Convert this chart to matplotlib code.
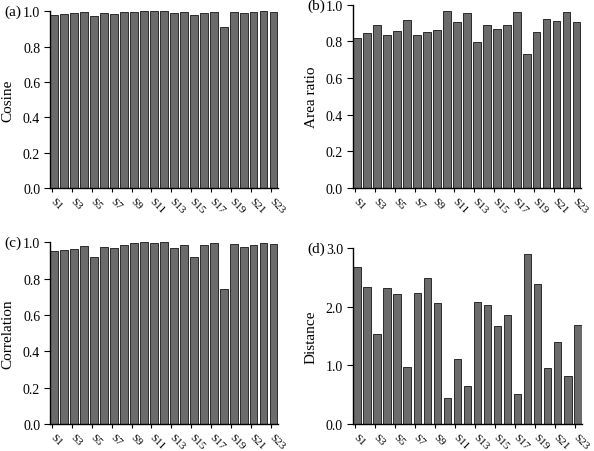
import numpy as np
import matplotlib
matplotlib.use("Agg")
import matplotlib.pyplot as plt
from matplotlib.transforms import ScaledTranslation

plt.rcParams['font.family'] = ['Liberation Serif', 'DejaVu Serif']
plt.rcParams['font.size'] = 10

samples = ['S%d' % i for i in range(1, 24)]

cosine = [0.979, 0.987, 0.989, 0.996, 0.974, 0.991, 0.983, 0.996, 0.998, 1.0,
          1.0, 1.0, 0.990, 0.995, 0.977, 0.992, 0.998, 0.908, 0.997, 0.990,
          0.997, 1.0, 0.997]
area_ratio = [0.818, 0.844, 0.891, 0.838, 0.855, 0.918, 0.838, 0.851, 0.865, 0.964,
              0.904, 0.956, 0.795, 0.889, 0.867, 0.891, 0.960, 0.731, 0.853, 0.924,
              0.913, 0.960, 0.905]
correlation = [0.954, 0.956, 0.963, 0.978, 0.918, 0.976, 0.967, 0.987, 0.995, 1.0,
               0.998, 1.0, 0.967, 0.987, 0.921, 0.984, 0.995, 0.744, 0.989, 0.973,
               0.987, 0.996, 0.991]
distance = [2.68, 2.34, 1.53, 2.31, 2.22, 0.97, 2.23, 2.49, 2.07, 0.44,
            1.11, 0.65, 2.08, 2.03, 1.67, 1.86, 0.51, 2.89, 2.38, 0.95,
            1.39, 0.82, 1.68]

panels = [
    ('(a)', 'Cosine', cosine, [0.084, 0.582, 0.384, 0.391], 1.0, 0.2),
    ('(b)', 'Area ratio', area_ratio, [0.594, 0.582, 0.384, 0.405], 1.0, 0.2),
    ('(c)', 'Correlation', correlation, [0.084, 0.060, 0.384, 0.402], 1.0, 0.2),
    ('(d)', 'Distance', distance, [0.594, 0.060, 0.386, 0.389], 3.0, 1.0),
]

fig = plt.figure(figsize=(5.94, 4.52), dpi=100)
x = np.arange(len(samples))
shift = ScaledTranslation(3 / 100, 0, fig.dpi_scale_trans)

for tag, ylab, vals, rect, ymax, step in panels:
    ax = fig.add_axes(rect)
    ax.bar(x, vals, width=0.78, color='#6b6b6b', edgecolor='#2a2a2a', linewidth=0.7)
    ax.set_xlim(-0.45, len(samples) - 0.55)
    ax.set_ylim(0, ymax)
    ax.set_yticks(np.arange(0, ymax + step / 2, step))
    ax.set_yticklabels(['%.1f' % v for v in np.arange(0, ymax + step / 2, step)])
    ax.set_xticks(x[::2] - 0.25)
    ax.set_xticklabels(samples[::2], rotation=-45, ha='left', va='center',
                       rotation_mode='anchor', fontsize=8)
    for lbl in ax.get_xticklabels():
        lbl.set_transform(lbl.get_transform() + shift)
    ax.tick_params(axis='x', length=3, width=0.8, pad=5)
    ax.tick_params(axis='y', length=4, width=0.8, pad=3)
    for s in ['top', 'right']:
        ax.spines[s].set_visible(False)
    ax.spines['left'].set_linewidth(1.0)
    ax.spines['bottom'].set_linewidth(1.0)
    ax.set_ylabel(ylab, fontsize=11, labelpad=6)
    ax.text(-0.2, 1.0, tag, transform=ax.transAxes, fontsize=11, va='center', ha='left')

fig.savefig('out.png', dpi=100)
